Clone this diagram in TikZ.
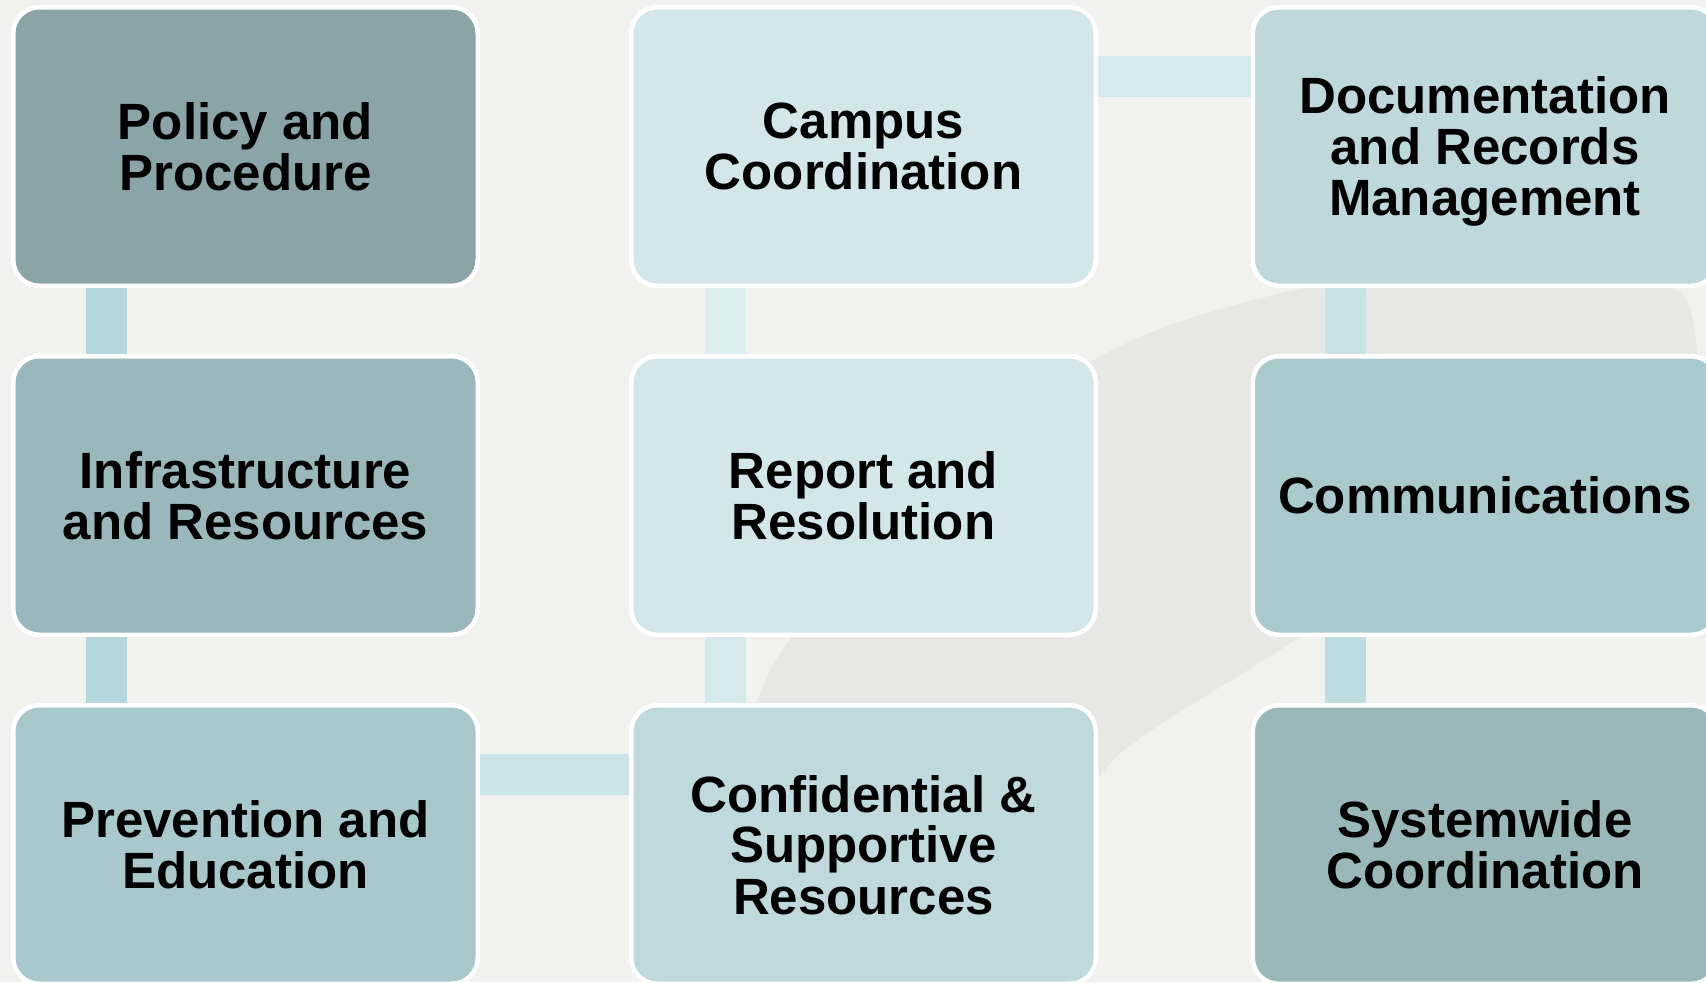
\documentclass[tikz,border=0pt]{standalone}
\usepackage{fontspec}
\setmainfont{Liberation Sans}
\definecolor{bgc}{HTML}{F1F1EF}
\definecolor{swc}{HTML}{E7E7E5}
\definecolor{fPol}{HTML}{8AA4A8}
\definecolor{fInf}{HTML}{9AB8BB}
\definecolor{fPre}{HTML}{A9C8CC}
\definecolor{fCam}{HTML}{D3E7EA}
\definecolor{fRep}{HTML}{D3E7EA}
\definecolor{fCon}{HTML}{BFD9DC}
\definecolor{fDoc}{HTML}{BFD8DC}
\definecolor{fCom}{HTML}{AAC9CC}
\definecolor{fSys}{HTML}{9AB8BA}
\definecolor{cA}{HTML}{B5D7DB}
\definecolor{cB}{HTML}{B5D7DB}
\definecolor{cC}{HTML}{CBE4E8}
\definecolor{cD}{HTML}{D5E9EC}
\definecolor{cE}{HTML}{DDEEF1}
\definecolor{cF}{HTML}{D5E9EC}
\definecolor{cG}{HTML}{C8E2E6}
\definecolor{cH}{HTML}{BEDDE0}
\tikzset{
  box/.style={draw=white, line width=2.25pt, rounded corners=13pt,
    minimum width=232.25pt, minimum height=139.25pt, inner sep=0pt,
    align=center, text depth=0pt, text=black,
    font=\fontsize{25.5}{25.5}\selectfont\bfseries},
  conn/.style={line width=20.5pt, line cap=butt},
}
\begin{document}
\begin{tikzpicture}[x=0.5pt,y=-0.5pt]
\useasboundingbox (0,0) rectangle (1706,982);
\fill[bgc] (0,0) rectangle (1706,982);
% faint background swoosh
\fill[swc] plot[smooth, tension=0.6] coordinates {(679,995) (690,900) (716,800) (756,702) (791,638) (901,500) (1090,362) (1254,300) (1440,268) (1600,276) (1680,292) (1697,355)}
  -- plot[smooth, tension=0.6] coordinates {(1690,385) (1500,500) (1300,637) (1152,730) (1098,778) (1030,880) (990,995)} -- cycle;
% boxes
\node[box, fill=fPol] (pol) at (245.5,146.5) {Policy and\\Procedure};
\node[box, fill=fInf] (inf) at (245.5,495.5) {Infrastructure\\and Resources};
\node[box, fill=fPre] (pre) at (245.5,844.5) {Prevention and\\Education};
\node[box, fill=fCam] (cam) at (863.5,146.5) {Campus\\Coordination};
\node[box, fill=fRep] (rep) at (863.5,495.5) {Report and\\Resolution};
\node[box, fill=fCon] (con) at (863.5,844.5) {Confidential \&\\Supportive\\Resources};
\node[box, fill=fDoc] (doc) at (1485,146.5) {Documentation\\and Records\\Management};
\node[box, fill=fCom] (com) at (1485,495.5) {Communications};
\node[box, fill=fSys] (sys) at (1485,844.5) {Systemwide\\Coordination};
% connectors
\draw[conn, cA] ([xshift=-69.5pt]pol.south) -- ([xshift=-69.5pt]inf.north);
\draw[conn, cB] ([xshift=-69.5pt]inf.south) -- ([xshift=-69.5pt]pre.north);
\draw[conn, cC] ([yshift=35.25pt]pre.east) -- ([yshift=35.25pt]con.west);
\draw[conn, cD] ([xshift=-69pt]con.north) -- ([xshift=-69pt]rep.south);
\draw[conn, cE] ([xshift=-69pt]rep.north) -- ([xshift=-69pt]cam.south);
\draw[conn, cF] ([yshift=35.25pt]cam.east) -- ([yshift=35.25pt]doc.west);
\draw[conn, cG] ([xshift=-70pt]doc.south) -- ([xshift=-70pt]com.north);
\draw[conn, cH] ([xshift=-70pt]com.south) -- ([xshift=-70pt]sys.north);
\end{tikzpicture}
\end{document}
